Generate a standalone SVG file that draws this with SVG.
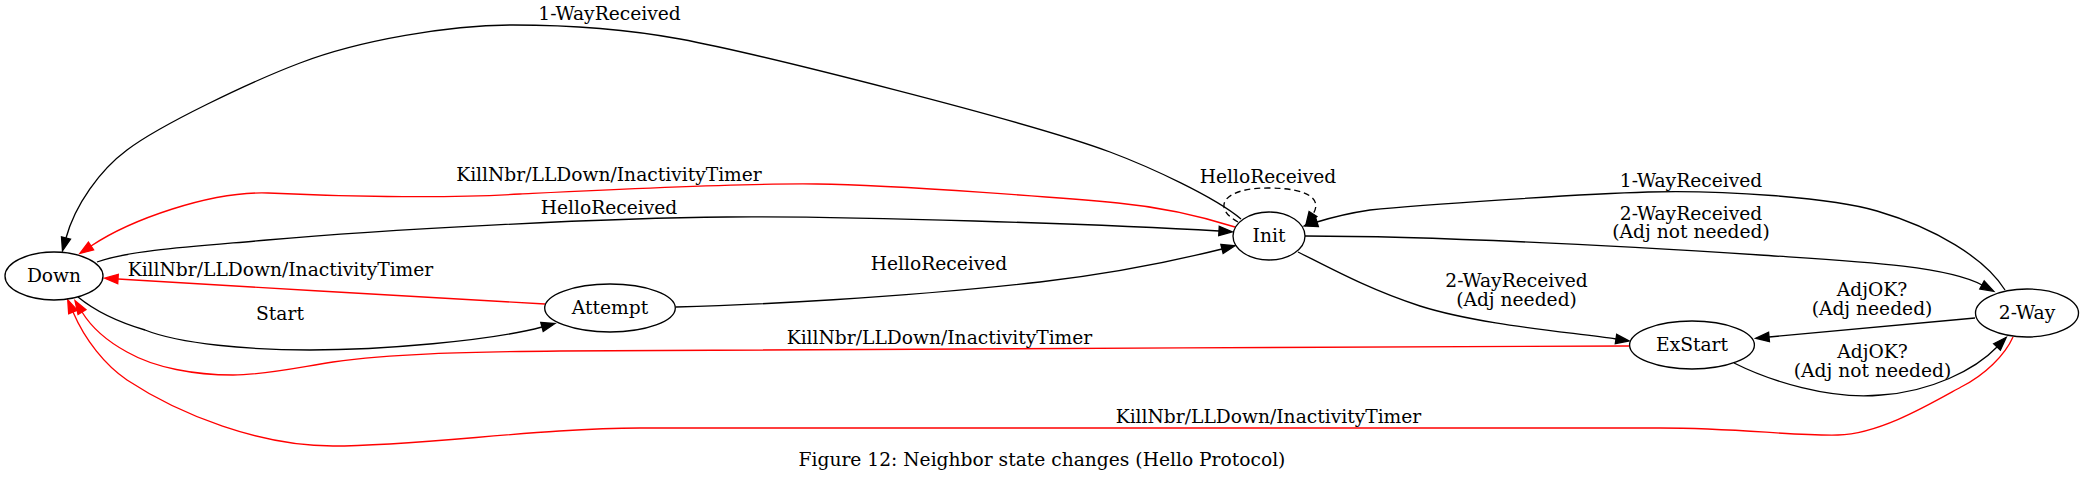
<svg xmlns="http://www.w3.org/2000/svg" width="2084" height="482" viewBox="0 0 2084 482">
<style>
text{font-family:"DejaVu Serif","Liberation Serif",serif;font-size:18.67px;fill:#000;text-anchor:middle}
.node ellipse{fill:none;stroke:#000;stroke-width:1.33}
.e{fill:none;stroke:#000;stroke-width:1.33;marker-end:url(#ab)}
.r{fill:none;stroke:#ff0000;stroke-width:1.33;marker-end:url(#ar)}
.d{stroke-dasharray:6,4}
</style>
<defs>
<marker id="ab" markerUnits="userSpaceOnUse" viewBox="0 0 14 10" markerWidth="14" markerHeight="10" refX="0" refY="4.67" orient="auto" overflow="visible">
<path d="M0,0 L13.33,4.67 L0,9.33 z" fill="#000" stroke="#000" stroke-width="1.33"/>
</marker>
<marker id="ar" markerUnits="userSpaceOnUse" viewBox="0 0 14 10" markerWidth="14" markerHeight="10" refX="0" refY="4.67" orient="auto" overflow="visible">
<path d="M0,0 L13.33,4.67 L0,9.33 z" fill="#ff0000" stroke="#ff0000" stroke-width="1.33"/>
</marker>
</defs>
<rect width="2084" height="482" fill="#fff"/>
<g id="edges">
<path class="e" d="M1241,219 C1215,197 1150,167 1110,152 C1030,122 760,54 680,39 C620,28 560,25 513,25 C450,25 360,40 300,63 C250,82 160,125 127,150 C100,170 75,205 66,238"/>
<path class="r" d="M1235,227 C1200,216 1160,207 1118,203 C1076,199 900,185 817,184 C734,183 600,190 520,194 C440,199 330,196 268,193 C210,191 130,220 91,246"/>
<path class="e" d="M97,262 C130,250 200,246 267,240 C380,230 600,218 727,217 C850,216 1100,224 1219,231"/>
<path class="r" d="M545,304 C420,297 250,287 118,279"/>
<path class="e" d="M78,297 C95,311 118,322 145,330 C180,344 250,350 310,350 C380,350 490,341 542,327"/>
<path class="e" d="M676,307 C750,305 900,298 1040,282 C1100,275 1170,262 1222,249"/>
<path class="e d" d="M1238,222 C1212,208 1222,188 1268,188 C1310,188 1322,200 1313,214"/>
<path class="e" d="M2005,290 C1985,258 1935,228 1877,211 C1830,197 1720,190 1648,192 C1580,194 1420,205 1370,210 C1350,213 1330,218 1317,222"/>
<path class="e" d="M1305,236 C1450,236 1650,248 1760,255 C1850,261 1945,265 1982,285"/>
<path class="e" d="M1298,252 C1330,268 1370,290 1420,306 C1480,325 1570,332 1616,339"/>
<path class="e" d="M1975,318 L1769,337"/>
<path class="e" d="M1734,363 C1770,381 1830,400 1881,395 C1930,392 1975,370 1997,347"/>
<path class="r" d="M1629,346 C1300,347 800,350 560,351 C460,352 390,354 333,362 C300,367 265,375 233,375 C195,375 155,368 127,352 C105,340 90,325 82,312"/>
<path class="r" d="M2013,337 C2005,355 1985,375 1961,387 C1930,404 1880,434 1838,435 C1790,436 1740,428 1660,428 L640,428 C540,428 420,446 333,446 C260,446 180,415 127,380 C105,365 85,340 73,312"/>
</g>
<g id="edge-labels">
<text x="609.5" y="20">1-WayReceived</text>
<text x="609" y="181">KillNbr/LLDown/InactivityTimer</text>
<text x="609" y="214">HelloReceived</text>
<text x="280.5" y="276">KillNbr/LLDown/InactivityTimer</text>
<text x="280" y="320">Start</text>
<text x="939" y="270">HelloReceived</text>
<text x="1268" y="183">HelloReceived</text>
<text x="1691" y="187">1-WayReceived</text>
<text x="1691" y="219.5">2-WayReceived</text>
<text x="1691" y="238">(Adj not needed)</text>
<text x="1516.5" y="287">2-WayReceived</text>
<text x="1516.5" y="306">(Adj needed)</text>
<text x="1872" y="296">AdjOK?</text>
<text x="1872" y="315">(Adj needed)</text>
<text x="1872.5" y="358">AdjOK?</text>
<text x="1872.5" y="377">(Adj not needed)</text>
<text x="939.5" y="343.5">KillNbr/LLDown/InactivityTimer</text>
<text x="1268.5" y="423">KillNbr/LLDown/InactivityTimer</text>
</g>
<g id="Down" class="node"><ellipse cx="54" cy="276" rx="49" ry="24"/><text x="54" y="281.7">Down</text></g>
<g id="Attempt" class="node"><ellipse cx="610" cy="308" rx="65.3" ry="24"/><text x="610" y="313.6">Attempt</text></g>
<g id="Init" class="node"><ellipse cx="1269" cy="236" rx="36" ry="24"/><text x="1269" y="241.6">Init</text></g>
<g id="ExStart" class="node"><ellipse cx="1692" cy="345" rx="62.4" ry="24"/><text x="1692" y="350.6">ExStart</text></g>
<g id="TwoWay" class="node"><ellipse cx="2027" cy="313" rx="51.5" ry="24"/><text x="2027" y="318.6">2-Way</text></g>
<g id="caption"><text x="1042" y="466">Figure 12: Neighbor state changes (Hello Protocol)</text></g>
</svg>
